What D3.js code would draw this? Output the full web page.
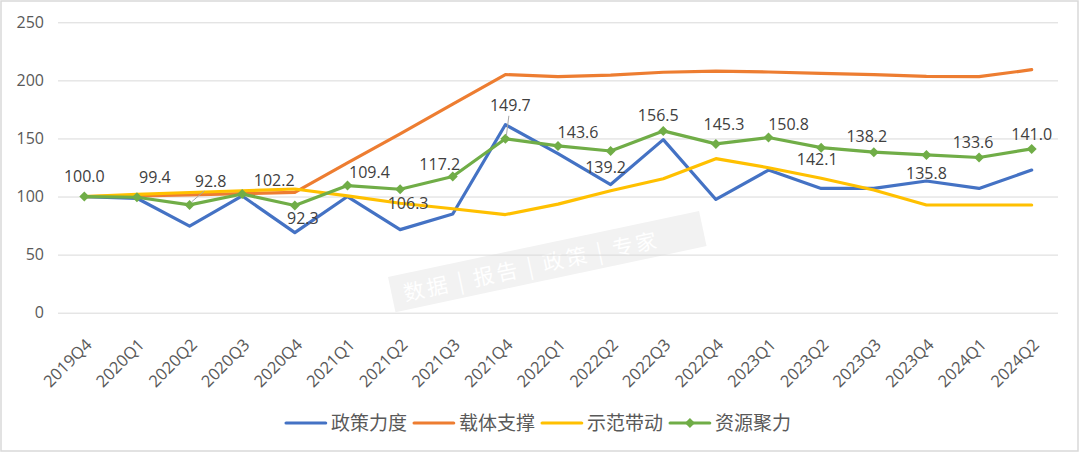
<!DOCTYPE html>
<html>
<head>
<meta charset="utf-8">
<script src="https://cdn.jsdelivr.net/npm/d3@7"></script>
<style>
  html, body { margin: 0; padding: 0; background: #ffffff; }
  svg { display: block; }
</style>
</head>
<body>
<svg id="chart" width="1080" height="452"></svg>
<script>
// ---------- data ----------
const categories = ["2019Q4","2020Q1","2020Q2","2020Q3","2020Q4","2021Q1","2021Q2","2021Q3","2021Q4",
  "2022Q1","2022Q2","2022Q3","2022Q4","2023Q1","2023Q2","2023Q3","2023Q4","2024Q1","2024Q2"];
const seriesNames = ["政策力度", "载体支撑", "示范带动", "资源聚力"];
const policy   = [100, 98.5, 74.6, 100.5, 68.9, 100, 71.5, 85, 161.8, 137, 110.3, 149, 97.5, 122.8, 107, 107, 113.4, 107, 122.8];
const carrier  = [100, 100.5, 101.5, 102.5, 103.5, 129, 154, 179.5, 205, 203.3, 204.6, 207, 208, 207.2, 206, 205, 203.5, 203.2, 209.2];
const demo     = [100, 101.8, 103.5, 105, 106.5, 100.5, 94.2, 89.5, 84.5, 93.5, 105, 115.3, 132.6, 124.8, 115.7, 105.6, 92.7, 92.7, 92.7];
const resource = [100.0, 99.4, 92.8, 102.2, 92.3, 109.4, 106.3, 117.2, 149.7, 143.6, 139.2, 156.5, 145.3, 150.8, 142.1, 138.2, 135.8, 133.6, 141.0];
const yTicks = [0, 50, 100, 150, 200, 250];

// ---------- layout / style config ----------
const colors = ["#4472C4", "#ED7D31", "#FFC000", "#70AD47"];
// data-label offsets (dx, dy of label centre relative to its point)
const labelOffsets = [[0,-20],[18,-20],[21,-24],[32,-14],[8,13],[22,-13],[8,14],[-13,-12],[5,-33],
  [20,-13],[-5,16],[-5,-16],[8,-20],[20,-13],[-4,12],[-7,-16],[0,18],[-6,-15],[0,-15]];
const leaderIdx = [2, 8];

const svg = d3.select("#chart");
const plot = {left: 58, right: 1058, top: 22.3, bottom: 312.7};

const x = d3.scalePoint().domain(categories).range([plot.left, plot.right]).padding(0.5);
const y = d3.scaleLinear().domain([0, 250]).range([plot.bottom, plot.top]);

// frame
svg.append("rect").attr("x", 1).attr("y", 1).attr("width", 1077).attr("height", 450)
  .attr("fill", "#fff").attr("stroke", "#d9d9d9").attr("stroke-width", 1.5);

// watermark band
const wm = svg.append("g").attr("transform", "translate(388,277) rotate(-12)");
wm.append("rect").attr("x", 0).attr("y", 0).attr("width", 318).attr("height", 36).attr("fill", "#f2f2f2");
wm.append("text").attr("x", 12).attr("y", 27).attr("fill", "#ffffff")
  .attr("font-family", "Noto Sans CJK SC").attr("font-size", 21)
  .attr("textLength", 258).attr("lengthAdjust", "spacing")
  .text("数据 | 报告 | 政策 | 专家");

// gridlines + y axis
const yAxis = d3.axisLeft(y).tickValues(yTicks).tickSize(-(plot.right - plot.left)).tickPadding(14);
const gy = svg.append("g").attr("transform", `translate(${plot.left},0)`).call(yAxis);
gy.select(".domain").remove();
gy.selectAll(".tick line").attr("stroke", "#d9d9d9").attr("stroke-width", 1);
gy.selectAll(".tick text").attr("fill", "#595959").attr("font-family", "Open Sans").attr("font-size", 16);

// x axis labels
const xAxis = d3.axisBottom(x).tickSize(0).tickPadding(0);
const gx = svg.append("g").attr("transform", `translate(0,${plot.bottom})`).call(xAxis);
gx.select(".domain").remove();
gx.selectAll(".tick text")
  .attr("fill", "#595959").attr("font-family", "Open Sans").attr("font-size", 16.5)
  .attr("text-anchor", "end").attr("dy", 0).attr("y", 0)
  .attr("transform", "translate(8,33) rotate(-45)");

// lines
const allSeries = [policy, carrier, demo, resource];
const line = d3.line().x((d, i) => x(categories[i])).y(d => y(d));
allSeries.forEach((s, k) => {
  svg.append("path").datum(s).attr("d", line).attr("fill", "none")
    .attr("stroke", colors[k]).attr("stroke-width", 3.2)
    .attr("stroke-linejoin", "round").attr("stroke-linecap", "round");
});

// green markers
const diamond = "M0,-5L5,0L0,5L-5,0Z";
svg.append("g").selectAll("path").data(resource).join("path")
  .attr("d", diamond).attr("fill", colors[3])
  .attr("transform", (d, i) => `translate(${x(categories[i])},${y(d)})`);

// leader lines
leaderIdx.forEach(i => {
  const px = x(categories[i]), py = y(resource[i]);
  const [dx, dy] = labelOffsets[i];
  svg.append("line").attr("x1", px + (dx > 10 ? 2 : 1)).attr("y1", py - 3)
    .attr("x2", px + dx * 0.7).attr("y2", py + dy + 10)
    .attr("stroke", "#a6a6a6").attr("stroke-width", 1);
});

// data labels
svg.append("g").selectAll("text").data(resource).join("text")
  .attr("x", (d, i) => x(categories[i]) + labelOffsets[i][0])
  .attr("y", (d, i) => y(d) + labelOffsets[i][1])
  .attr("dy", "0.35em").attr("text-anchor", "middle")
  .attr("fill", "#404040").attr("font-family", "Open Sans").attr("font-size", 16)
  .text(d => d3.format(".1f")(d));

// legend
const legY = 423;
const lg = svg.append("g");
let cx = 0;
seriesNames.forEach((name, k) => {
  const g = lg.append("g");
  g.append("line").attr("x1", cx).attr("x2", cx + 39.6).attr("y1", legY).attr("y2", legY)
    .attr("stroke", colors[k]).attr("stroke-width", 3.2).attr("stroke-linecap", "round");
  if (k === 3) g.append("path").attr("d", diamond).attr("fill", colors[3])
    .attr("transform", `translate(${cx + 19.8},${legY})`);
  const t = g.append("text").attr("x", cx + 45).attr("y", legY).attr("dy", "0.36em")
    .attr("fill", "#595959").attr("font-family", "Noto Sans CJK SC").attr("font-size", 19)
    .text(name);
  cx += 45 + t.node().getComputedTextLength() + 7;
});
const total = cx - 7;
lg.attr("transform", `translate(${538.6 - total / 2},0)`);
</script>
</body>
</html>
